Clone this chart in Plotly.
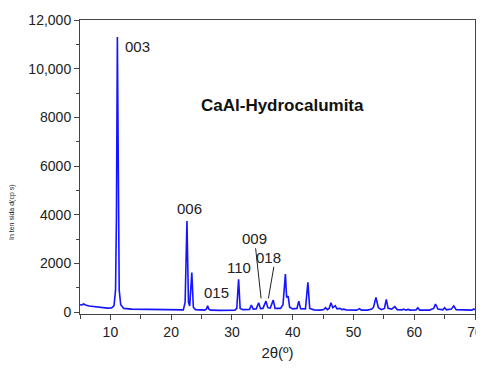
import plotly.graph_objects as go

two_theta = [5.0, 5.3, 5.6, 5.9, 6.5, 7.5, 8.5, 9.5, 10.2, 10.6, 10.85, 11.0, 11.15, 11.3, 11.45, 11.7, 12.2,
             13.5, 15, 17, 19, 21, 22.0, 22.3, 22.6, 22.85, 23.05, 23.4, 23.65, 24.0, 25.5, 25.8, 26.0, 26.2,
             26.5, 28, 30.5, 30.8, 31.1, 31.35, 31.8, 32.9, 33.2, 33.5, 34.0, 34.4, 34.7, 35.1, 35.6, 35.9,
             36.3, 36.8, 37.1, 38.0, 38.4, 38.8, 39.0, 39.25, 39.5, 40.0, 40.7, 41.0, 41.3, 42.1, 42.5, 42.8,
             43.5, 44.5, 45.1, 45.4, 45.7, 46.0, 46.3, 46.6, 47.0, 47.3, 47.8, 48.1, 48.4, 48.8, 50.5, 51.0,
             51.3, 52.3, 52.6, 53.0, 53.3, 53.7, 54.1, 54.6, 55.1, 55.4, 55.7, 56.3, 56.8, 57.2, 58.0, 58.3,
             58.6, 59.0, 59.3, 60.3, 60.6, 60.9, 62.5, 63.2, 63.5, 63.9, 64.7, 65.0, 65.3, 66.1, 66.5, 66.9,
             69.5, 69.8, 70.0]
intensity = [300, 290, 330, 290, 250, 210, 180, 160, 170, 260, 900, 4000, 11300, 4000, 900, 300, 150,
             120, 110, 95, 90, 80, 90, 400, 3740, 400, 250, 1620, 200, 100, 80, 120, 260, 120,
             80, 70, 80, 150, 1350, 150, 100, 110, 290, 120, 130, 380, 140, 150, 450, 180,
             160, 490, 150, 150, 300, 1560, 600, 650, 200, 130, 150, 450, 140, 130, 1220, 150,
             90, 80, 100, 180, 100, 150, 380, 180, 260, 130, 150, 100, 120, 90, 80, 140,
             80, 80, 110, 120, 200, 600, 180, 100, 150, 520, 150, 120, 220, 100, 90, 120,
             80, 110, 80, 90, 180, 80, 80, 150, 330, 120, 90, 180, 90, 120, 250, 100,
             80, 130, 90]

ytick_vals = [0, 2000, 4000, 6000, 8000, 10000, 12000]
ytick_text = ["0", "2000", "4000", "6000", "8000", "10,000", "12,000"]
xtick_vals = [10, 20, 30, 40, 50, 60, 70]

peak_labels = ["003", "006", "015", "110", "009", "018"]
label_x = [12.0, 23.0, 27.5, 31.2, 33.7, 36.0]
label_y = [10900, 4250, 800, 1820, 3020, 2250]

fig = go.Figure()
fig.add_trace(go.Scatter(x=two_theta, y=intensity, mode="lines",
                         line=dict(color="#1414ff", width=1.6), showlegend=False))

font_axis = dict(family="Liberation Sans, Arial, sans-serif", size=14, color="#222")

fig.update_layout(
    width=476, height=360,
    margin=dict(l=72, r=9, t=12, b=54),
    paper_bgcolor="white", plot_bgcolor="white",
    xaxis=dict(range=[5, 70], tickvals=xtick_vals, ticks="outside", ticklen=5, tickwidth=1,
               tickcolor="#444", showline=True, linecolor="#444", linewidth=1, mirror=True,
               showgrid=False, zeroline=False, tickfont=font_axis, automargin=False,
               minor=dict(tickvals=[5, 15, 25, 35, 45, 55, 65], ticks="outside", ticklen=4, tickcolor="#444"),
               title=dict(text="2θ(º)", font=dict(family="Liberation Sans, Arial, sans-serif", size=15, color="#222"), standoff=8)),
    yaxis=dict(range=[-80, 12000], tickvals=ytick_vals, ticktext=ytick_text, ticks="outside", ticklen=5,
               tickwidth=1, tickcolor="#444", showline=True, linecolor="#444", linewidth=1, mirror=True,
               showgrid=False, zeroline=False, tickfont=font_axis, automargin=False,
               minor=dict(tickvals=[1000, 3000, 5000, 7000, 9000, 11000], ticks="outside", ticklen=3, tickcolor="#444")),
)

for t, xv, yv in zip(peak_labels, label_x, label_y):
    fig.add_annotation(x=xv, y=yv, text=t, showarrow=False, xanchor="left" if t == "003" else "center",
                       font=dict(family="Liberation Sans, Arial, sans-serif", size=15, color="#222"))

# leader lines for 009 and 018
fig.add_shape(type="line", x0=33.9, y0=2620, x1=34.8, y1=560, line=dict(color="#222", width=1))
fig.add_shape(type="line", x0=36.9, y0=1860, x1=36.0, y1=560, line=dict(color="#222", width=1))

fig.add_annotation(x=38.3, y=8500, text="<b>CaAl-Hydrocalumita</b>", showarrow=False,
                   font=dict(family="Liberation Sans, Arial, sans-serif", size=17, color="#111"))

fig.add_annotation(xref="paper", yref="paper", x=-0.172, y=0.347, xanchor="center", yanchor="middle",
                   text="In ten sida d(cp s)", textangle=-90,
                   showarrow=False, font=dict(family="Liberation Sans, Arial, sans-serif", size=7, color="#222"))

fig.write_html("out.html")
